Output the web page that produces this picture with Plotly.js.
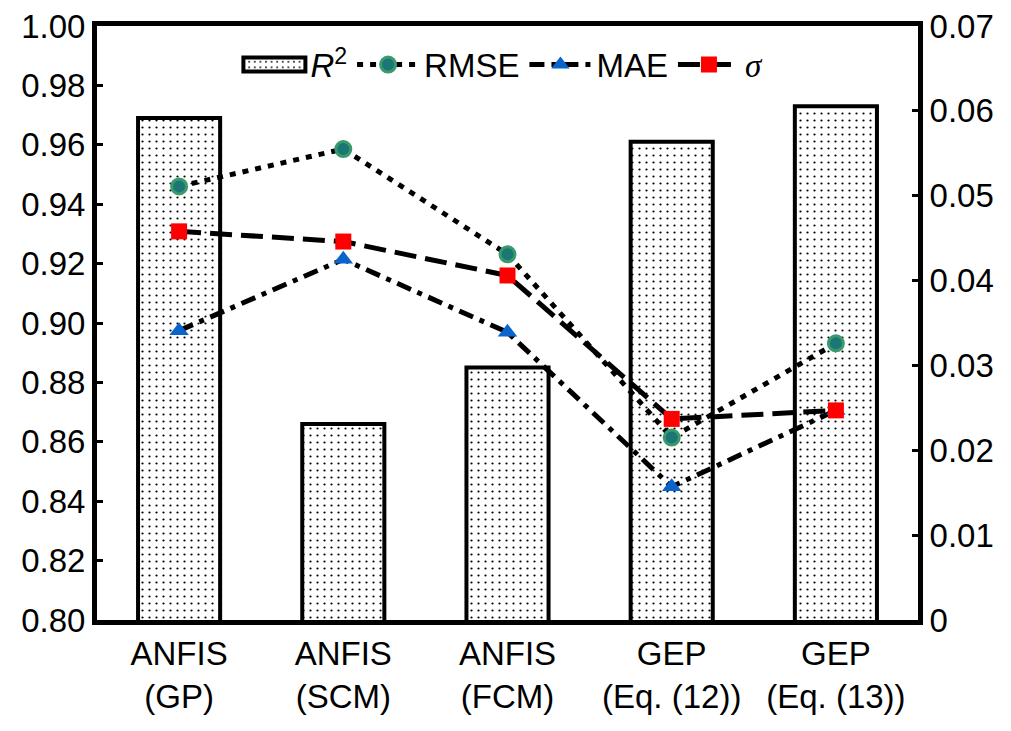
<!DOCTYPE html>
<html>
<head>
<meta charset="utf-8">
<script src="https://cdn.plot.ly/plotly-3.0.1.min.js"></script>
<style>html,body{margin:0;padding:0;background:#fff;}#chart{width:1011px;height:731px;}</style>
</head>
<body>
<div id="chart"></div>
<script>
// Data
var categories = ["ANFIS<br>(GP)", "ANFIS<br>(SCM)", "ANFIS<br>(FCM)", "GEP<br>(Eq. (12))", "GEP<br>(Eq. (13))"];
var r2 = [0.969, 0.866, 0.885, 0.961, 0.973];
var rmse = [0.0511, 0.0555, 0.0431, 0.0215, 0.0326];
var mae = [0.0341, 0.0425, 0.0339, 0.0157, 0.0247];
var sigma = [0.0458, 0.0446, 0.0406, 0.0237, 0.0247];
var leftTicks = [0.80, 0.82, 0.84, 0.86, 0.88, 0.90, 0.92, 0.94, 0.96, 0.98, 1.00];
var leftTickText = ["0.80", "0.82", "0.84", "0.86", "0.88", "0.90", "0.92", "0.94", "0.96", "0.98", "1.00"];
var rightTicks = [0, 0.01, 0.02, 0.03, 0.04, 0.05, 0.06, 0.07];
var rightTickText = ["0", "0.01", "0.02", "0.03", "0.04", "0.05", "0.06", "0.07"];

var xIdx = categories.map(function(c, i){ return i; });

var traces = [
  {
    type: 'bar', x: xIdx, y: r2, name: '<i>R</i><sup>2</sup>',
    width: 0.5, yaxis: 'y',
    marker: {
      color: '#ffffff',
      line: {color: '#000000', width: 4},
      pattern: {shape: '.', fgcolor: '#000000', bgcolor: '#ffffff', size: 7, solidity: 0.08}
    }
  },
  {
    type: 'scatter', mode: 'lines+markers', x: xIdx, y: rmse, name: 'RMSE', yaxis: 'y2',
    line: {color: '#000000', width: 5, dash: '6px,7px'},
    marker: {symbol: 'circle', size: 15, color: '#1b7676', line: {color: '#3a9a6c', width: 3}}
  },
  {
    type: 'scatter', mode: 'lines+markers', x: xIdx, y: mae, name: 'MAE', yaxis: 'y2',
    line: {color: '#000000', width: 5, dash: '15px,7px,5px,7px'},
    marker: {symbol: 'triangle-up', size: 17, color: '#0a64cc', line: {width: 0}}
  },
  {
    type: 'scatter', mode: 'lines+markers', x: xIdx, y: sigma,
    name: '<span style="font-family:\'Liberation Serif\', serif"><i>σ</i></span>', yaxis: 'y2',
    line: {color: '#000000', width: 5, dash: '22px,9px'},
    marker: {symbol: 'square', size: 16, color: '#ff0000', line: {width: 0}}
  }
];

var layout = {
  width: 1011, height: 731,
  margin: {l: 97, r: 93, t: 26, b: 111},
  paper_bgcolor: '#ffffff', plot_bgcolor: '#ffffff',
  font: {family: 'Liberation Sans, Arial, sans-serif', size: 33, color: '#000000'},
  showlegend: true,
  legend: {
    orientation: 'h', x: 0.495, xanchor: 'center', y: 0.935, yanchor: 'middle',
    bgcolor: 'rgba(0,0,0,0)', font: {size: 33}, itemwidth: 62, tracegroupgap: 0,
    traceorder: 'normal'
  },
  xaxis: {
    range: [-0.5, 4.5], tickvals: xIdx, ticktext: categories,
    showline: true, linecolor: '#000000', linewidth: 5, mirror: true,
    ticks: '', showgrid: false, zeroline: false,
    tickfont: {size: 33}, ticklabelstandoff: 0
  },
  yaxis: {
    range: [0.80, 1.00], tickvals: leftTicks, ticktext: leftTickText,
    showline: true, linecolor: '#000000', linewidth: 5,
    ticks: 'inside', ticklen: 6, tickwidth: 3, tickcolor: '#000000',
    showgrid: false, zeroline: false, tickfont: {size: 33}
  },
  yaxis2: {
    range: [0, 0.07], tickvals: rightTicks, ticktext: rightTickText,
    overlaying: 'y', side: 'right',
    showline: true, linecolor: '#000000', linewidth: 5,
    ticks: 'inside', ticklen: 6, tickwidth: 3, tickcolor: '#000000',
    showgrid: false, zeroline: false, tickfont: {size: 33}
  },
  bargap: 0.5
};

Plotly.newPlot('chart', traces, layout, {displayModeBar: false, staticPlot: true}).then(function(gd){
  // widen the bar legend symbol so it spans the same slot as the line symbols
  var items = gd.querySelectorAll('.legend .traces');
  if (items.length > 1) {
    var barPath = items[0].querySelector('.legendpoints path');
    var linePath = items[1].querySelector('.legendlines path');
    if (barPath && linePath) {
      var br = barPath.getBoundingClientRect();
      var cx = br.left + br.width / 2;
      var lr = linePath.getBoundingClientRect();
      var lineItem = items[1].getBoundingClientRect();
      var barItem = items[0].getBoundingClientRect();
      // offsets of line symbol inside its own item, applied to the bar item
      var offL = lr.left - lineItem.left, offR = lr.right - lineItem.left;
      var x0 = barItem.left + offL - cx, x1 = barItem.left + offR - cx;
      barPath.setAttribute('d', 'M' + x0 + ',7H' + x1 + 'V-7H' + x0 + 'Z');
      barPath.style.strokeWidth = '4px';
    }
  }
});
</script>
</body>
</html>
